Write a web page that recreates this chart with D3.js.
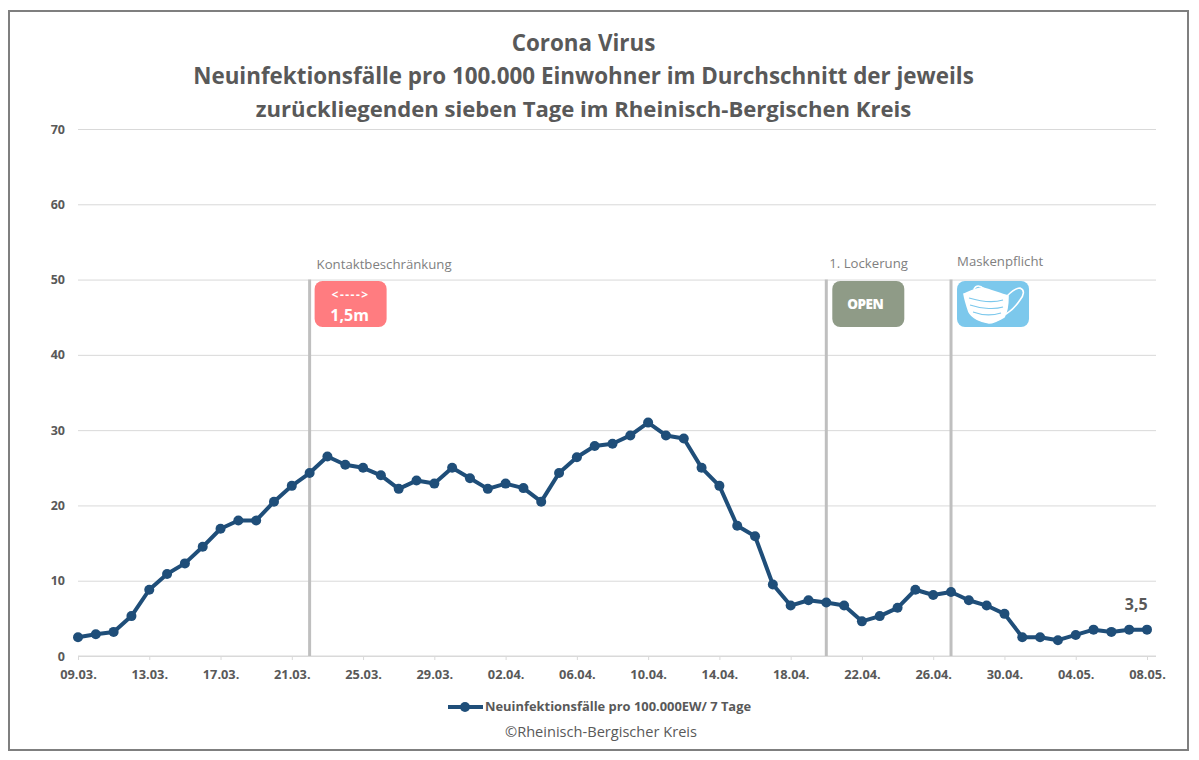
<!DOCTYPE html>
<html>
<head>
<meta charset="utf-8">
<script src="https://cdnjs.cloudflare.com/ajax/libs/d3/7.8.5/d3.min.js"></script>
<style>
  html, body { margin: 0; padding: 0; background: #fff; }
  svg { display: block; }
  text { font-family: "Open Sans", sans-serif; }
</style>
</head>
<body>
<svg width="1199" height="760"></svg>
<script>
// 09.03. - 08.05., one value per day
var march = d3.range(9, 32).map(function(d) { return d3.format("02")(d) + ".03."; });
var april = d3.range(1, 31).map(function(d) { return d3.format("02")(d) + ".04."; });
var may = d3.range(1, 9).map(function(d) { return d3.format("02")(d) + ".05."; });
var days = march.concat(april, may);

var values = [
  2.5, 2.9, 3.2, 5.3, 8.8, 10.9, 12.3, 14.5, 16.9, 18.0, 18.0, 20.5, 22.6, 24.3, 26.5, 25.4,
  25.0, 24.0, 22.2, 23.3, 22.9, 25.0, 23.6, 22.2, 22.9, 22.3, 20.5, 24.3, 26.4, 27.9, 28.2,
  29.3, 31.0, 29.3, 28.9, 25.0, 22.6, 17.3, 15.9, 9.5, 6.7, 7.4, 7.1, 6.7, 4.6, 5.3,
  6.4, 8.8, 8.1, 8.5, 7.4, 6.7, 5.6, 2.5, 2.5, 2.1, 2.8, 3.5, 3.2, 3.5, 3.5
];

var yTicks = [0, 10, 20, 30, 40, 50, 60, 70];
var titleLines = [
  "Corona Virus",
  "Neuinfektionsfälle pro 100.000 Einwohner im Durchschnitt der jeweils",
  "zurückliegenden sieben Tage im Rheinisch-Bergischen Kreis"
];
var measures = [
  {day: "22.03.", label: "Kontaktbeschränkung"},
  {day: "20.04.", label: "1. Lockerung"},
  {day: "27.04.", label: "Maskenpflicht"}
];

var vis = d3.select("svg");

var x = d3.scalePoint().domain(days).range([78, 1147]);
var y = d3.scaleLinear().domain([0, 70]).range([656, 129]);

// Outer frame
vis.append("rect")
   .attr("x", 9).attr("y", 11)
   .attr("width", 1179).attr("height", 739)
   .attr("fill", "#fff")
   .attr("stroke", "#7f7f7f")
   .attr("stroke-width", 2);

// Title
vis.append("g").selectAll("text")
   .data(titleLines)
   .enter()
   .append("text")
   .attr("x", 583.5)
   .attr("y", function(d, i) { return 51 + i * 33; })
   .attr("text-anchor", "middle")
   .attr("font-size", function(d, i) { return i == 2 ? 22.1 : 22.4; })
   .attr("font-weight", 700)
   .attr("fill", "#595959")
   .text(function(d) { return d; });

// Y axis: gridlines and labels only
var yAxis = d3.axisLeft(y)
              .tickValues(yTicks)
              .tickSize(-(1156 - 78))
              .tickPadding(13);

var yG = vis.append("g")
            .attr("transform", "translate(78,0)")
            .call(yAxis);
yG.select(".domain").remove();
yG.selectAll("line").attr("stroke", "#d9d9d9").attr("stroke-width", 1);
yG.selectAll("text")
  .attr("font-size", 12.5)
  .attr("font-weight", 700)
  .attr("fill", "#595959");

// X axis: every fourth day
var xAxis = d3.axisBottom(x)
              .tickValues(days.filter(function(d, i) { return i % 4 == 0; }))
              .tickSize(4)
              .tickSizeOuter(0)
              .tickPadding(10);

var xG = vis.append("g")
            .attr("transform", "translate(0,656)")
            .call(xAxis);
xG.select(".domain").attr("d", "M78,0H1156").attr("stroke", "#d9d9d9");
xG.selectAll("line").attr("stroke", "#d9d9d9");
xG.selectAll("text")
  .attr("font-size", 12.8)
  .attr("font-weight", 700)
  .attr("fill", "#595959");

// Measure markers
var marks = vis.append("g");
marks.selectAll("line")
     .data(measures)
     .enter()
     .append("line")
     .attr("x1", function(d) { return x(d.day); })
     .attr("x2", function(d) { return x(d.day); })
     .attr("y1", y(50))
     .attr("y2", y(0))
     .attr("stroke", "#bfbfbf")
     .attr("stroke-width", 3);

marks.selectAll("text")
     .data(measures)
     .enter()
     .append("text")
     .attr("x", function(d, i) { return x(d.day) + [7, 3, 6][i]; })
     .attr("y", function(d, i) { return [269, 268, 266][i]; })
     .attr("font-size", 13.2)
     .attr("fill", "#7f7f7f")
     .text(function(d) { return d.label; });

// Icons
function iconBox(cx, fill) {
  var g = vis.append("g").attr("transform", "translate(" + cx + ",281)");
  g.append("rect")
   .attr("width", 72).attr("height", 46).attr("rx", 8)
   .attr("fill", fill);
  return g;
}

var distance = iconBox(x("22.03.") + 5, "#ff7c80");
distance.append("text")
        .attr("x", 36).attr("y", 18)
        .attr("text-anchor", "middle")
        .attr("font-size", 12)
        .attr("font-weight", 700)
        .attr("letter-spacing", 1.5)
        .attr("fill", "#fff")
        .text("<---->");
distance.append("text")
        .attr("x", 35).attr("y", 40)
        .attr("text-anchor", "middle")
        .attr("font-size", 16)
        .attr("font-weight", 700)
        .attr("fill", "#fff")
        .text("1,5m");

var open = iconBox(x("20.04.") + 6, "#8f9b87");
open.append("text")
    .attr("x", 33).attr("y", 28)
    .attr("text-anchor", "middle")
    .attr("font-size", 13.5)
    .attr("font-weight", 800)
    .attr("letter-spacing", -0.5)
    .attr("fill", "#fff")
    .text("OPEN");

var mask = iconBox(x("27.04.") + 6, "#7cc8ec");
var maskLines = mask.append("g")
                    .attr("fill", "none")
                    .attr("stroke", "#fff")
                    .attr("stroke-width", 1.6)
                    .attr("stroke-linecap", "round");
maskLines.append("path").attr("d", "M17,8 C19,4 23,4 27,8");
maskLines.append("path").attr("d", "M50,15 C54,11 59,7 63,7 C68,9 67,14 63,19 C59,25 54,30 49,33");
maskLines.append("path")
         .attr("d", "M7,13 C14,10 20,7 26,7 C34,9 43,13 51,15 C51,24 50,31 47,36 C42,39 37,42 32,42 C24,41 15,37 12,31 C10,25 8,19 7,13 Z")
         .attr("fill", "#fff");
var pleats = mask.append("g")
                 .attr("fill", "none")
                 .attr("stroke", "#7cc8ec")
                 .attr("stroke-width", 1.1);
pleats.append("path").attr("d", "M12,17 C22,20 36,22 46,19");
pleats.append("path").attr("d", "M13,24 C22,27 36,29 46,26");
pleats.append("path").attr("d", "M16,31 C24,34 34,35 44,32");

// Line and points
var line = d3.line()
             .x(function(d, i) { return x(days[i]); })
             .y(function(d) { return y(d); });

vis.append("path")
   .datum(values)
   .attr("d", line)
   .attr("fill", "none")
   .attr("stroke", "#1f4e79")
   .attr("stroke-width", 4)
   .attr("stroke-linejoin", "round");

vis.append("g").selectAll("circle")
   .data(values)
   .enter()
   .append("circle")
   .attr("cx", function(d, i) { return x(days[i]); })
   .attr("cy", function(d) { return y(d); })
   .attr("r", 5)
   .attr("fill", "#1f4e79");

// Last value label
vis.append("text")
   .attr("x", x("07.05.") + 7)
   .attr("y", 610)
   .attr("text-anchor", "middle")
   .attr("font-size", 16)
   .attr("font-weight", 700)
   .attr("fill", "#595959")
   .text("3,5");

// Legend
var legend = vis.append("g");
legend.append("line")
      .attr("x1", 448).attr("x2", 483)
      .attr("y1", 707).attr("y2", 707)
      .attr("stroke", "#1f4e79").attr("stroke-width", 4);
legend.append("circle")
      .attr("cx", 465).attr("cy", 707).attr("r", 5)
      .attr("fill", "#1f4e79");
legend.append("text")
      .attr("x", 485).attr("y", 711)
      .attr("font-size", 12.9)
      .attr("font-weight", 700)
      .attr("fill", "#595959")
      .text("Neuinfektionsfälle pro 100.000EW/ 7 Tage");

vis.append("text")
   .attr("x", 601).attr("y", 737)
   .attr("text-anchor", "middle")
   .attr("font-size", 14.6)
   .attr("fill", "#595959")
   .text("©Rheinisch-Bergischer Kreis");
</script>
</body>
</html>
